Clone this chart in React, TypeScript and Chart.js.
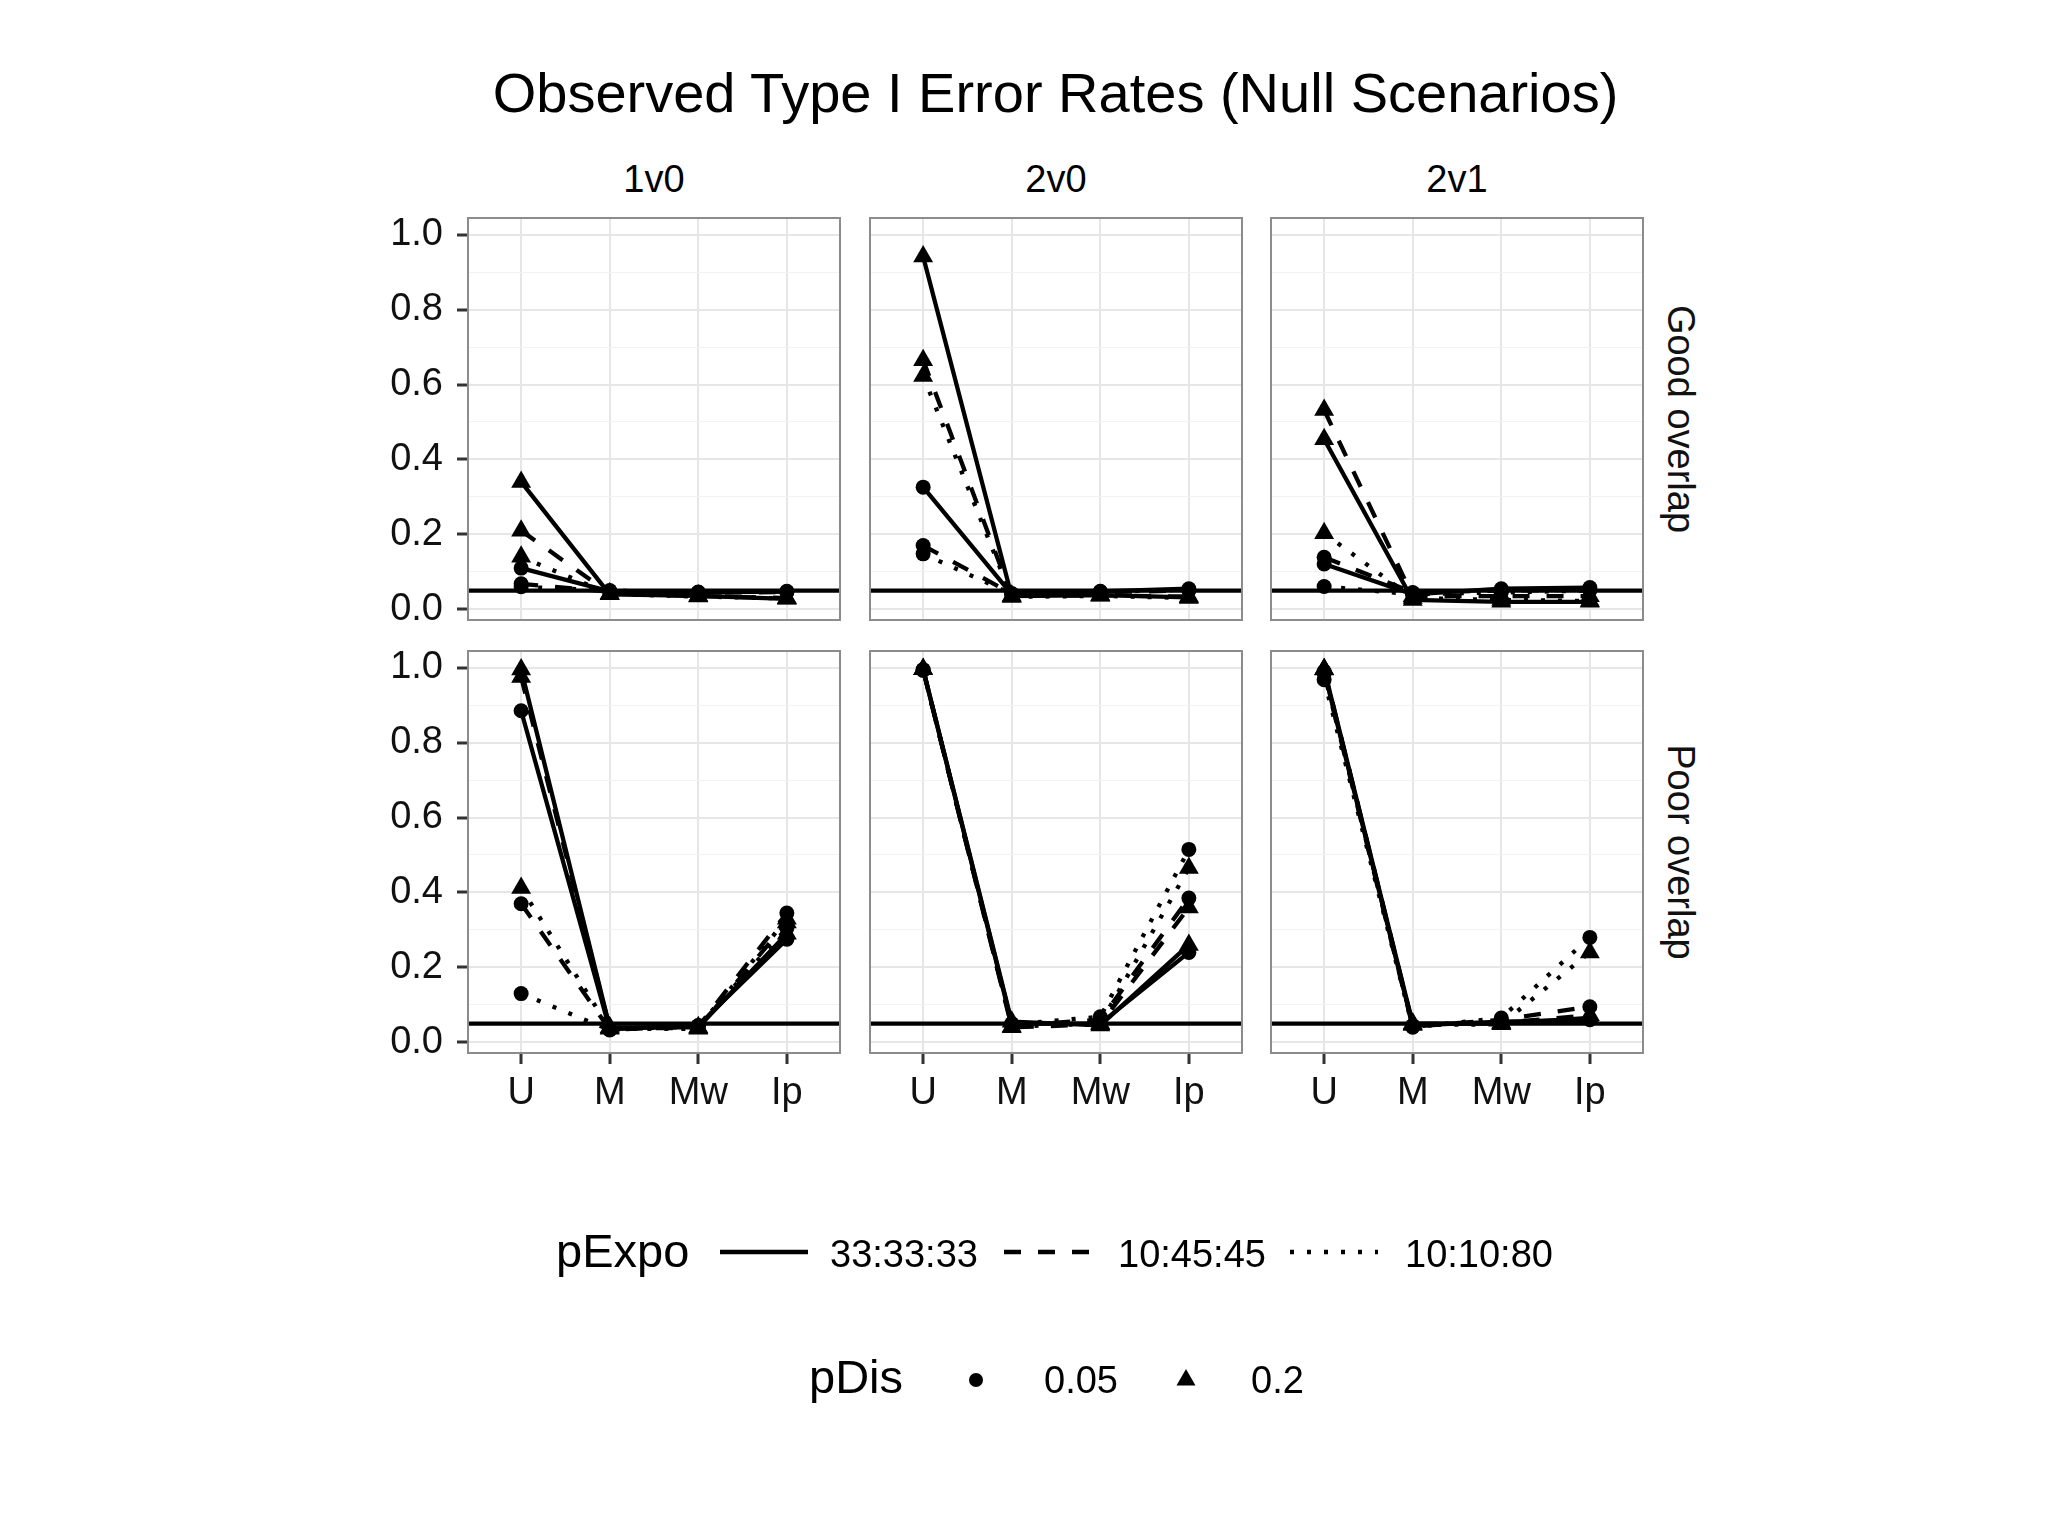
import React, { useEffect, useRef } from 'react';
import { Chart, registerables } from 'chart.js';

Chart.register(...registerables);

// ---------------- data ----------------
const categories = ['U', 'M', 'Mw', 'Ip'];
const comparisons = ['1v0', '2v0', '2v1'];
const overlaps = ['Good overlap', 'Poor overlap'];
const pExpoLevels = ['33:33:33', '10:45:45', '10:10:80'];
const pDisLevels = ['0.05', '0.2'];
const yMajorTicks = [0, 0.2, 0.4, 0.6, 0.8, 1.0];
const yMinorTicks = [0.1, 0.3, 0.5, 0.7, 0.9];
const nominalAlpha = 0.05;
const titleText = 'Observed Type I Error Rates (Null Scenarios)';

// row order in every panel array:
// [33:33:33 & 0.05, 33:33:33 & 0.2, 10:45:45 & 0.05, 10:45:45 & 0.2, 10:10:80 & 0.05, 10:10:80 & 0.2]
// columns: U, M, Mw, Ip
const good1v0 = [
  [0.110, 0.048, 0.045, 0.047],
  [0.340, 0.040, 0.036, 0.028],
  [0.068, 0.047, 0.044, 0.046],
  [0.210, 0.042, 0.035, 0.030],
  [0.060, 0.050, 0.046, 0.048],
  [0.140, 0.041, 0.034, 0.029],
];
const good2v0 = [
  [0.326, 0.040, 0.048, 0.055],
  [0.942, 0.035, 0.038, 0.032],
  [0.170, 0.042, 0.046, 0.050],
  [0.665, 0.036, 0.037, 0.034],
  [0.148, 0.041, 0.047, 0.052],
  [0.623, 0.033, 0.036, 0.030],
];
const good2v1 = [
  [0.121, 0.040, 0.055, 0.058],
  [0.454, 0.025, 0.020, 0.020],
  [0.139, 0.045, 0.050, 0.052],
  [0.532, 0.035, 0.035, 0.035],
  [0.061, 0.040, 0.045, 0.050],
  [0.203, 0.030, 0.025, 0.022],
];
const poor1v0 = [
  [0.885, 0.035, 0.045, 0.275],
  [0.995, 0.040, 0.040, 0.290],
  [0.370, 0.034, 0.042, 0.345],
  [0.975, 0.038, 0.038, 0.320],
  [0.130, 0.033, 0.044, 0.305],
  [0.412, 0.036, 0.036, 0.330],
];
const poor2v0 = [
  [0.995, 0.050, 0.050, 0.240],
  [0.996, 0.055, 0.045, 0.260],
  [0.994, 0.045, 0.060, 0.385],
  [0.996, 0.040, 0.048, 0.360],
  [0.993, 0.048, 0.068, 0.515],
  [0.996, 0.042, 0.050, 0.465],
];
const poor2v1 = [
  [0.990, 0.045, 0.055, 0.060],
  [0.996, 0.050, 0.050, 0.065],
  [0.985, 0.042, 0.060, 0.095],
  [0.996, 0.048, 0.052, 0.072],
  [0.968, 0.040, 0.065, 0.280],
  [0.995, 0.046, 0.048, 0.240],
];
const panelValues = [
  [good1v0, good2v0, good2v1],
  [poor1v0, poor2v0, poor2v1],
];

// ---------------- styling / layout ----------------
const FONT = '"Liberation Sans", Arial, Helvetica, sans-serif';
const PANEL_W = 372;
const PANEL_H = 402;
const colLefts = [468, 870, 1271];
const rowTops = [218, 651];
const PAD = 45;
const Y_AXIS_W = 100;
const X_AXIS_H = 80;
const Y_MIN = -0.0286;
const Y_MAX = 1.0446;
const X_EXPAND = 0.6;
const LINE_W = 4.3;
const dashPatterns = [[], [17, 17], [4, 13]];
const AXIS_FONT = 38;
const TICK_COLOR = '#333333';
const BORDER_COLOR = '#8c8c8c';

const isMajor = (v: number) => Math.round(v * 10) % 2 === 0;

const panelDecor = {
  id: 'panelDecor',
  beforeDatasetsDraw(chart: any) {
    const { ctx, chartArea } = chart;
    const y = chart.scales.y.getPixelForValue(nominalAlpha);
    ctx.save();
    ctx.beginPath();
    ctx.rect(chartArea.left, chartArea.top, chartArea.width, chartArea.height);
    ctx.clip();
    ctx.beginPath();
    ctx.moveTo(chartArea.left, y);
    ctx.lineTo(chartArea.right, y);
    ctx.lineWidth = LINE_W;
    ctx.strokeStyle = '#000';
    ctx.stroke();
    ctx.restore();
  },
  afterDraw(chart: any) {
    const { ctx, chartArea } = chart;
    ctx.save();
    ctx.lineWidth = 2;
    ctx.strokeStyle = BORDER_COLOR;
    ctx.strokeRect(chartArea.left, chartArea.top, chartArea.width, chartArea.height);
    ctx.restore();
  },
};

function Panel({ values, col, row }: { values: number[][]; col: number; row: number }) {
  const ref = useRef<HTMLCanvasElement>(null);
  const showY = col === 0;
  const showX = row === 1;
  const width = PANEL_W + 2 * PAD + (showY ? Y_AXIS_W : 0);
  const height = PANEL_H + 2 * PAD + (showX ? X_AXIS_H : 0);
  const left = colLefts[col] - PAD - (showY ? Y_AXIS_W : 0);
  const top = rowTops[row] - PAD;

  useEffect(() => {
    if (!ref.current) return;
    const datasets = values.map((vals, i) => {
      const e = Math.floor(i / 2);
      const d = i % 2;
      return {
        label: `${pExpoLevels[e]} / ${pDisLevels[d]}`,
        data: vals.map((v, k) => ({ x: k, y: v })),
        borderColor: '#000',
        backgroundColor: '#000',
        borderWidth: LINE_W,
        borderDash: dashPatterns[e],
        borderCapStyle: 'butt',
        pointStyle: d === 0 ? 'circle' : 'triangle',
        pointRadius: d === 0 ? 7.5 : 11.5,
        pointBorderWidth: 0,
        pointBackgroundColor: '#000',
        pointBorderColor: '#000',
        tension: 0,
        fill: false,
        clip: false,
      };
    });
    const allY = [...yMajorTicks, ...yMinorTicks].sort((a, b) => a - b);
    const chart = new Chart(ref.current, {
      type: 'line',
      data: { datasets: datasets as any },
      options: {
        animation: false,
        responsive: false,
        devicePixelRatio: 1,
        events: [],
        layout: { padding: PAD },
        plugins: {
          legend: { display: false },
          tooltip: { enabled: false },
          title: { display: false },
        },
        scales: {
          x: {
            type: 'linear',
            min: -X_EXPAND,
            max: categories.length - 1 + X_EXPAND,
            bounds: 'data',
            afterBuildTicks: (s: any) => {
              s.ticks = categories.map((_, i) => ({ value: i }));
            },
            afterFit: (s: any) => {
              s.height = showX ? X_AXIS_H : 0;
            },
            border: { display: false },
            grid: {
              color: '#e6e6e6',
              lineWidth: 2,
              drawTicks: showX,
              tickLength: 11,
              tickColor: TICK_COLOR,
              tickWidth: 3,
            },
            ticks: {
              display: showX,
              autoSkip: false,
              maxRotation: 0,
              padding: 7,
              color: '#111',
              font: { family: FONT, size: AXIS_FONT },
              callback: (v: any) => categories[Math.round(Number(v))] ?? '',
            },
          },
          y: {
            type: 'linear',
            min: Y_MIN,
            max: Y_MAX,
            bounds: 'data',
            afterBuildTicks: (s: any) => {
              s.ticks = allY.map((v) => ({ value: v }));
            },
            afterFit: (s: any) => {
              s.width = showY ? Y_AXIS_W : 0;
            },
            border: { display: false },
            grid: {
              color: (c: any) => (isMajor(c.tick.value) ? '#e6e6e6' : '#f3f3f3'),
              lineWidth: (c: any) => (isMajor(c.tick.value) ? 2 : 1),
              drawTicks: showY,
              tickLength: 11,
              tickColor: (c: any) => (isMajor(c.tick.value) ? TICK_COLOR : 'rgba(0,0,0,0)'),
              tickWidth: 3,
            },
            ticks: {
              display: showY,
              autoSkip: false,
              padding: 14,
              color: '#111',
              font: { family: FONT, size: AXIS_FONT },
              callback: (v: any) => (isMajor(Number(v)) ? Number(v).toFixed(1) : ''),
            },
          },
        },
      },
      plugins: [panelDecor],
    });
    return () => chart.destroy();
  }, []);

  return (
    <canvas
      ref={ref}
      width={width}
      height={height}
      style={{ position: 'absolute', left, top, width, height }}
    />
  );
}

function Text({
  text,
  x,
  baseline,
  size,
  align = 'left',
}: {
  text: string;
  x: number;
  baseline: number;
  size: number;
  align?: 'left' | 'center';
}) {
  return (
    <div
      style={{
        position: 'absolute',
        left: x,
        top: baseline - 0.8465 * size,
        fontSize: size,
        lineHeight: `${size}px`,
        fontFamily: FONT,
        whiteSpace: 'nowrap',
        color: '#000',
        transform: align === 'center' ? 'translateX(-50%)' : undefined,
      }}
    >
      {text}
    </div>
  );
}

function RotatedText({ text, cx, cy, size }: { text: string; cx: number; cy: number; size: number }) {
  return (
    <div
      style={{
        position: 'absolute',
        left: cx,
        top: cy,
        fontSize: size,
        lineHeight: `${size}px`,
        fontFamily: FONT,
        whiteSpace: 'nowrap',
        color: '#111',
        transform: 'translate(-50%, -50%) rotate(90deg)',
      }}
    >
      {text}
    </div>
  );
}

const legendLineKeys = [
  { x1: 720, x2: 808, labelX: 830 },
  { x1: 1004, x2: 1092, labelX: 1118 },
  { x1: 1290, x2: 1378, labelX: 1405 },
];
const legendShapeKeys = [
  { cx: 976, labelX: 1044 },
  { cx: 1186, labelX: 1251 },
];

function Legend() {
  const rowY1 = 1252;
  const rowY2 = 1380;
  const tri = (cx: number, cy: number, r: number) => {
    const pts = [0, 1, 2].map((k) => {
      const a = (k * 2 * Math.PI) / 3;
      return `${cx + Math.sin(a) * r},${cy - Math.cos(a) * r}`;
    });
    return pts.join(' ');
  };
  return (
    <>
      <svg
        width={2048}
        height={1536}
        style={{ position: 'absolute', left: 0, top: 0, pointerEvents: 'none' }}
      >
        {legendLineKeys.map((k, i) => (
          <line
            key={i}
            x1={k.x1}
            x2={k.x2}
            y1={rowY1}
            y2={rowY1}
            stroke="#000"
            strokeWidth={LINE_W}
            strokeDasharray={dashPatterns[i].length ? dashPatterns[i].join(' ') : undefined}
          />
        ))}
        <circle cx={legendShapeKeys[0].cx} cy={rowY2} r={7} fill="#000" />
        <polygon points={tri(legendShapeKeys[1].cx, rowY2, 11)} fill="#000" />
      </svg>
      <Text text="pExpo" x={556} baseline={1267} size={47} />
      {pExpoLevels.map((lab, i) => (
        <Text key={lab} text={lab} x={legendLineKeys[i].labelX} baseline={1267} size={38} />
      ))}
      <Text text="pDis" x={809} baseline={1393} size={47} />
      {pDisLevels.map((lab, i) => (
        <Text key={lab} text={lab} x={legendShapeKeys[i].labelX} baseline={1393} size={38} />
      ))}
    </>
  );
}

export default function App() {
  const panelsCenterX = (colLefts[0] + colLefts[2] + PANEL_W) / 2;
  return (
    <div
      style={{
        position: 'absolute',
        left: 0,
        top: 0,
        width: 2048,
        height: 1536,
        background: '#fff',
        overflow: 'hidden',
      }}
    >
      <Text text={titleText} x={panelsCenterX} baseline={112} size={56} align="center" />
      {comparisons.map((c, i) => (
        <Text key={c} text={c} x={colLefts[i] + PANEL_W / 2} baseline={192} size={AXIS_FONT} align="center" />
      ))}
      {overlaps.map((o, r) => (
        <RotatedText key={o} text={o} cx={1681} cy={rowTops[r] + PANEL_H / 2} size={AXIS_FONT} />
      ))}
      {panelValues.map((rowVals, r) =>
        rowVals.map((vals, c) => <Panel key={`${r}-${c}`} values={vals} col={c} row={r} />)
      )}
      <Legend />
    </div>
  );
}
